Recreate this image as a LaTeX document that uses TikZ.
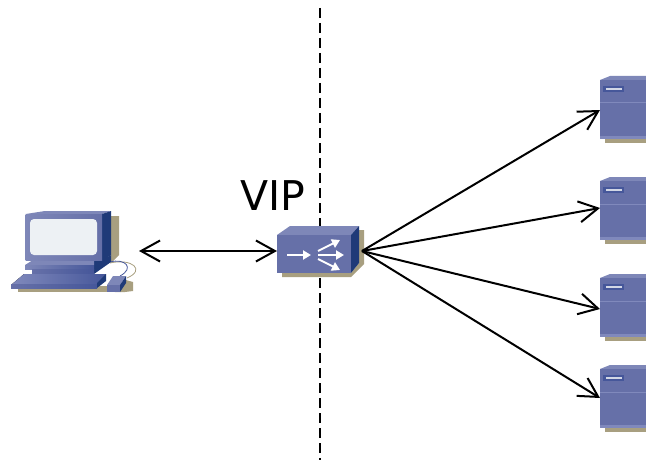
\documentclass[tikz,border=0pt]{standalone}
\usepackage{fontspec}
\setmainfont{DejaVu Sans}
\usetikzlibrary{arrows, arrows.meta}

\definecolor{devfront}{HTML}{6670A8}
\definecolor{devlight}{HTML}{8089BC}
\definecolor{devtop}{HTML}{7E87B8}
\definecolor{devside}{HTML}{1F3A78}
\definecolor{devmid}{HTML}{46579A}
\definecolor{devshadow}{HTML}{A89F80}
\definecolor{devscreen}{HTML}{EDF1F4}

\tikzset{
  hull/.style={draw=none,fill=devfront},
  hulltop/.style={draw=none,fill=devtop},
  hullside/.style={draw=none,fill=devside},
  hullshadow/.style={draw=none,fill=devshadow},
  anchorbox/.style={inner sep=0pt,outer sep=0pt,minimum height=1pt},
  link/.style={line width=2pt,{Straight Barb[length=19pt,width=21pt]}-{Straight Barb[length=19pt,width=21pt]}},
  flow/.style={line width=2pt,-{Straight Barb[length=19pt,width=21pt]}},
  whitearrow/.style={draw=white,line width=2pt,-{Triangle[length=8pt,width=9pt]}}
}

\newcommand{\serverunit}[2]{
  \begin{scope}[shift={(#1,#2)}]
    \fill[hullshadow] (5,59) rectangle (46,67);
    \fill[hulltop] (0,4)--(10,0)--(46,0)--(46,4)--cycle;
    \fill[hull] (0,4) rectangle (46,63);
    \fill[devlight] (0,26.5) rectangle (46,27.5);
    \fill[devlight] (0,60) rectangle (46,63);
    \fill[devmid] (3,10) rectangle (24,16);
    \fill[devscreen!80!devfront] (6,12) rectangle (22,14);
  \end{scope}
}

\begin{document}
\begin{tikzpicture}[x=1pt,y=-1pt]
\useasboundingbox (0,0) rectangle (646,460);

% dashed boundary
\draw[line width=2.4pt,dash pattern=on 10pt off 5pt] (320,8)--(320,460);

% client
\fill[hullshadow] (111,216)--(119,216)--(119,255)--(111,263)--cycle;
\fill[hullshadow] (18,286)--(107,286)--(107,292)--(18,292)--cycle;
\fill[hullshadow] (112,288)--(126,280)--(133,282)--(133,291)--(125,292)--(115,292)--cycle;
\draw[devshadow,line width=.8pt] (110,263) .. controls (132,258) and (146,270) .. (127,278);
\draw[devmid,line width=.8pt] (110,262) .. controls (125,258) and (135,268) .. (120,276);
\fill[hullside] (33,260)--(102,260)--(111,255)--(111,262)--(94,274)--(94,265)--cycle;
\fill[hulltop] (33,260)--(94,260)--(94,265)--(25,265)--cycle;
\fill[left color=devtop,right color=devmid] (25,265) rectangle (94,269);
\fill[left color=devfront,right color=devmid] (32,269) rectangle (94,274);
\fill[hulltop] (25.7,214)--(45,211)--(111,211)--(102,214)--cycle;
\fill[hullside] (102,214)--(111,211)--(111,255)--(102,261)--cycle;
\fill[left color=devtop,right color=devfront] (25.7,214) rectangle (102,260);
\fill[devscreen,rounded corners=4pt] (30,219) rectangle (97,255);
\fill[left color=devlight,right color=devmid] (11,285)--(24,274)--(106,274)--(97,284)--cycle;
\fill[left color=devfront,right color=devmid] (11,284) rectangle (97,288);
\fill[hullside] (97,283)--(106,274)--(106,281)--(97,288)--cycle;
\fill[hulltop] (107,285)--(113,276)--(126,276)--(120,285)--cycle;
\fill[hull] (107,285) rectangle (120,292);
\fill[hullside] (120,285)--(126,276)--(126,283)--(120,292)--cycle;
\node[anchorbox,minimum width=139pt] (pc) at (69.5,251) {};

% balancer
\fill[hullshadow] (282,273)--(351,273)--(359,263)--(359,230)--(364,230)--(364,264)--(351,277)--(282,277)--cycle;
\fill[hulltop] (277,235)--(290,226)--(359,226)--(351,235)--cycle;
\fill[hull] (277,235) rectangle (351,273);
\fill[hullside] (351,235)--(359,226)--(359,263)--(351,273)--cycle;
\draw[whitearrow] (287,255)--(311,255);
\draw[whitearrow] (318,251)--(340,240);
\draw[whitearrow] (318,255)--(344,255);
\draw[whitearrow] (318,259)--(340,270);
\node[anchorbox,minimum width=85pt] (lb) at (319.5,251) {};

% servers
\serverunit{600}{76}
\serverunit{600}{177}
\serverunit{600}{274}
\serverunit{600}{365}
\node[anchorbox,anchor=west,minimum width=46pt] (srvA) at (600,110) {};
\node[anchorbox,anchor=west,minimum width=46pt] (srvB) at (600,208) {};
\node[anchorbox,anchor=west,minimum width=46pt] (srvC) at (600,309) {};
\node[anchorbox,anchor=west,minimum width=46pt] (srvD) at (600,398) {};

\node[font=\fontsize{41}{41}\selectfont,inner sep=0pt] (vip) at (272.5,196) {VIP};

\draw[link] (pc.east)--(lb.west);
\draw[flow] (lb.east)--(srvA.west);
\draw[flow] (lb.east)--(srvB.west);
\draw[flow] (lb.east)--(srvC.west);
\draw[flow] (lb.east)--(srvD.west);

\end{tikzpicture}
\end{document}
